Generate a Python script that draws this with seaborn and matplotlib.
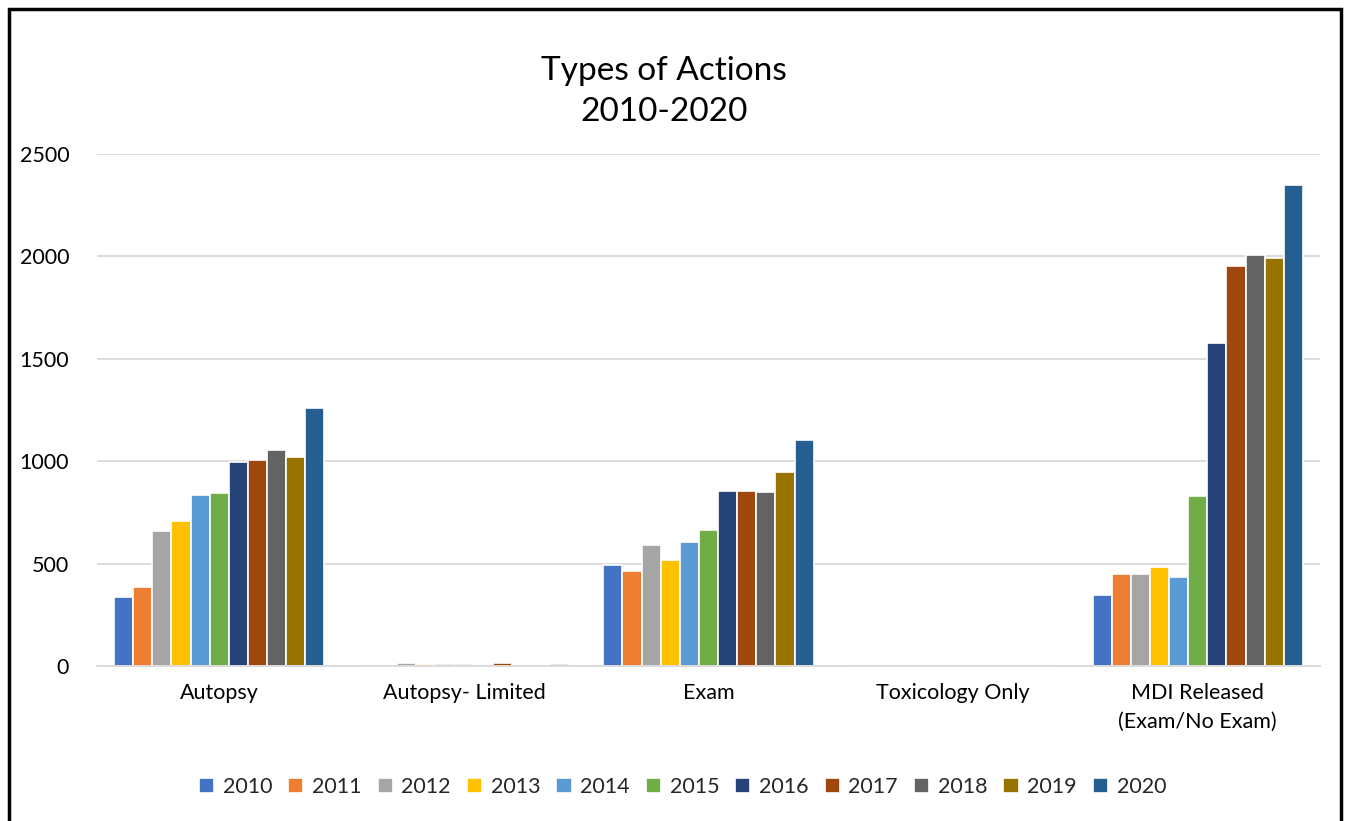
import pandas as pd
import seaborn as sns
import matplotlib.pyplot as plt
from matplotlib.patches import Rectangle

categories = ['Autopsy', 'Autopsy- Limited', 'Exam', 'Toxicology Only',
              'MDI Released\n(Exam/No Exam)']
years = ['2010', '2011', '2012', '2013', '2014', '2015',
         '2016', '2017', '2018', '2019', '2020']

# values per year, in category order
v2010 = [337, 5, 493, 0, 347]
v2011 = [386, 3, 464, 0, 449]
v2012 = [659, 14, 591, 0, 449]
v2013 = [708, 10, 518, 0, 483]
v2014 = [835, 8, 605, 0, 435]
v2015 = [845, 10, 664, 0, 830]
v2016 = [996, 5, 855, 0, 1577]
v2017 = [1006, 15, 855, 0, 1953]
v2018 = [1055, 5, 852, 0, 2007]
v2019 = [1020, 3, 947, 0, 1990]
v2020 = [1260, 8, 1104, 0, 2349]

colors = ['#4472C4', '#ED7D31', '#A5A5A5', '#FFC000', '#5B9BD5', '#70AD47',
          '#264478', '#9E480E', '#636363', '#997300', '#255E91']

series = [v2010, v2011, v2012, v2013, v2014, v2015,
          v2016, v2017, v2018, v2019, v2020]
rows = []
for yr, vals in zip(years, series):
    for cat, v in zip(categories, vals):
        rows.append({'Type': cat, 'Year': yr, 'Count': v})
df = pd.DataFrame(rows)

sns.set_style('white')
plt.rcParams['font.family'] = ['Lato', 'DejaVu Sans']

fig = plt.figure(figsize=(13.49, 8.21), dpi=100)
ax = fig.add_axes([0.0719, 0.1888, 0.9066, 0.6236])

sns.barplot(data=df, x='Type', y='Count', hue='Year', order=categories,
            hue_order=years, palette=colors, saturation=1, width=0.86, ax=ax,
            edgecolor='white', linewidth=1.2, errorbar=None)

ax.set_ylim(0, 2500)
ax.set_yticks([0, 500, 1000, 1500, 2000, 2500])
ax.yaxis.grid(True, color='#D9D9D9', linewidth=1.3)
ax.set_axisbelow(True)
for s in ['top', 'right', 'left']:
    ax.spines[s].set_visible(False)
ax.spines['bottom'].set_color('#D9D9D9')
ax.spines['bottom'].set_linewidth(1.3)
ax.tick_params(axis='both', length=0, labelsize=15.5, colors='black')
ax.tick_params(axis='y', pad=20)
ax.tick_params(axis='x', pad=12)
for lbl in ax.get_xticklabels():
    lbl.set_linespacing(1.55)
ax.set_xlabel('')
ax.set_ylabel('')

ax.legend(loc='center', bbox_to_anchor=(0.506, 0.041),
          bbox_transform=fig.transFigure, ncol=11, frameon=False,
          fontsize=15.5, handlelength=0.7, handleheight=0.7,
          handletextpad=0.4, columnspacing=0.75)

fig.text(0.492, 0.889, 'Types of Actions\n2010-2020', ha='center',
         va='center', fontsize=24, linespacing=1.45, color='black')

fig.patches.append(Rectangle((0.0066, -0.02), 0.9874, 1.009,
                             transform=fig.transFigure, fill=False,
                             edgecolor='black', linewidth=2.5))

fig.savefig('out.png', dpi=100)
